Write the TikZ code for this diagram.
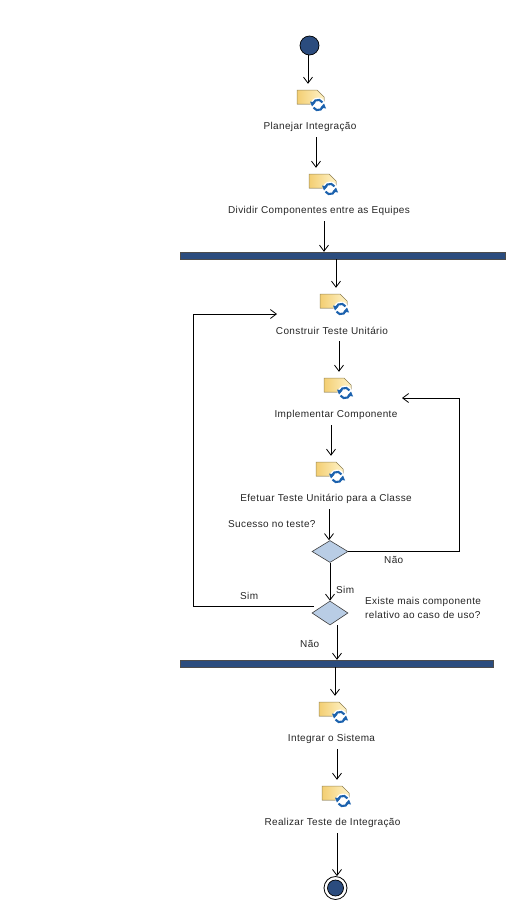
\documentclass[tikz,border=0pt]{standalone}
\usepackage{fontspec}
\setmainfont{Liberation Sans}[LetterSpace=3.6]
\usetikzlibrary{arrows.meta,shapes.geometric}
\definecolor{umlblue}{HTML}{2B4C7E}
\definecolor{dmd}{HTML}{B9CDE5}
\definecolor{notegold}{HTML}{F3CE72}
\definecolor{notelight}{HTML}{FFF3C8}
\definecolor{noteedge}{HTML}{9A8A5A}
\definecolor{cyc}{HTML}{1C62AE}
\tikzset{
  flow/.style={draw=black,line width=0.8pt,-{Straight Barb[length=6pt,width=9pt,line width=0.8pt]}},
  lab/.style={font=\fontsize{10}{12}\selectfont,text=black!85,inner sep=0pt,minimum height=20pt,align=center},
  txt/.style={font=\fontsize{10}{14}\selectfont,text=black!85,inner sep=0pt,align=left,anchor=west},
  bar/.style={rectangle,fill=umlblue,draw=black!70,line width=0.4pt,inner sep=0pt,minimum height=7pt},
  decision/.style={diamond,aspect=1.6,fill=dmd,draw=black!75,line width=0.6pt,inner sep=0pt,minimum width=36pt,minimum height=22pt},
  iconbox/.style={inner sep=0pt,minimum width=30pt,minimum height=32pt},
}
% #1 name, #2 x of note's left edge, #3 y of note's top edge
\newcommand{\acticon}[3]{%
  \fill[left color=notegold,right color=notelight,draw=noteedge,line width=0.5pt]
    (#2,#3) -- ++(20,0) -- ++(7,7) -- ++(0,7) -- ++(-27,0) -- cycle;
  \begin{scope}[shift={(#2+21,#3+15)}]
    \fill[white] (0,0) circle[radius=7.5];
    \draw[cyc,line width=2.1pt] (150:5.2) arc[start angle=150,end angle=20,radius=5.2];
    \draw[cyc,line width=2.1pt] (-30:5.2) arc[start angle=-30,end angle=-160,radius=5.2];
    \fill[cyc] (8,3.5) -- (2.5,2.5) -- (6,-1.5) -- cycle;
    \fill[cyc] (-8,-3.5) -- (-2.5,-2.5) -- (-6,1.5) -- cycle;
  \end{scope}
  \node[iconbox] (#1) at (#2+15,#3+10) {};
}
\newcommand{\vflow}[3]{\draw[flow] (#2 -| #1,0) -- (#3 -| #1,0);}
\begin{document}
\begin{tikzpicture}[x=1pt,y=-1pt]
\useasboundingbox[fill=white] (0,0) rectangle (530,921);

\node[circle,fill=umlblue,draw=black,line width=0.7pt,minimum size=19pt,inner sep=0pt] (start) at (309.5,45.5) {};

\acticon{i1}{297}{90}
\node[lab] (l1) at (310,127) {Planejar Integração};
\acticon{i2}{309}{174}
\node[lab] (l2) at (319,211) {Dividir Componentes entre as Equipes};
\node[bar,minimum width=324.5pt] (bar1) at (342.5,255.5) {};
\acticon{i3}{320}{294}
\node[lab] (l3) at (332,331) {Construir Teste Unitário};
\acticon{i4}{324}{378}
\node[lab] (l4) at (336,415) {Implementar Componente};
\acticon{i5}{316}{462}
\node[lab] (l5) at (326,499) {Efetuar Teste Unitário para a Classe};
\node[decision] (d1) at (330,551.5) {};
\node[decision,minimum height=24pt] (d2) at (330,613) {};
\node[bar,minimum width=312.5pt] (bar2) at (336.5,663.5) {};
\acticon{i6}{319}{702}
\node[lab] (l6) at (331.5,739) {Integrar o Sistema};
\acticon{i7}{322}{786}
\node[lab] (l7) at (332.5,823) {Realizar Teste de Integração};
\node[circle,fill=umlblue,draw=black,line width=0.7pt,minimum size=16pt,inner sep=0pt] (endin) at (335.5,888) {};
\node[circle,draw=black,line width=0.8pt,minimum size=23pt,inner sep=0pt] (endout) at (335.5,888) {};

\node[txt] (tq1) at (228,524) {Sucesso no teste?};
\node[txt] (tn1) at (384,560) {Não};
\node[txt] (ts1) at (336,590) {Sim};
\node[txt] (tq2) at (365,608) {Existe mais componente\\relativo ao caso de uso?};
\node[txt] (ts2) at (240,596) {Sim};
\node[txt] (tn2) at (300,644) {Não};

\coordinate (t4) at (402,398);
\coordinate (t3) at (277,314);
\coordinate (c1) at (459.5,551.5);
\coordinate (c2) at (193,606);
\coordinate (s2) at (314,606);

\vflow{308}{start.south}{i1.north}
\vflow{316}{l1.south}{i2.north}
\vflow{324}{l2.south}{bar1.north}
\vflow{336}{bar1.south}{i3.north}
\vflow{339}{l3.south}{i4.north}
\vflow{331}{l4.south}{i5.north}
\vflow{329}{l5.south}{d1.north}
\vflow{330}{d1.south}{d2.north}
\vflow{337}{d2.south}{bar2.north}
\vflow{335}{bar2.south}{i6.north}
\vflow{337}{l6.south}{i7.north}
\vflow{337}{l7.south}{endout.north}

\draw[flow] (d1.east) -- (c1) |- (t4);
\draw[flow] (s2) -- (c2) |- (t3);
\end{tikzpicture}
\end{document}
